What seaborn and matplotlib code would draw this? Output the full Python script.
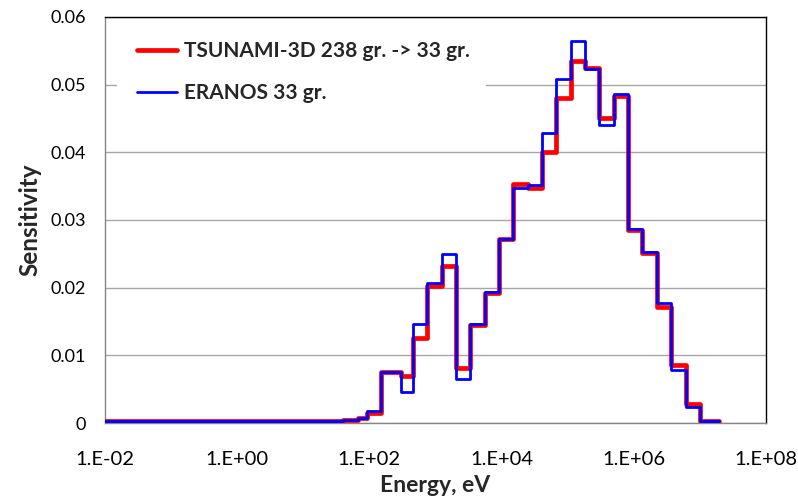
import matplotlib
matplotlib.use("Agg")
import matplotlib.pyplot as plt
import matplotlib.ticker as mticker
from matplotlib.patches import Rectangle
import numpy as np
import pandas as pd
import seaborn as sns

# 33-group energy boundaries (eV), ascending
group_edges = [1.0e-5, 0.1, 0.54, 4.0, 8.315, 13.71, 22.6, 40.17, 67.9, 91.66,
               148.6, 304.3, 454.0, 748.5, 1234.0, 2035.0, 3355.0, 5531.0, 9119.0,
               15030.0, 24790.0, 40870.0, 67380.0, 111100.0, 183200.0, 302000.0,
               497900.0, 820900.0, 1.353e6, 2.231e6, 3.679e6, 6.065e6, 1.0e7, 1.964e7]

# Group-wise sensitivities, lowest energy group first
tsunami_sens = [0.0003, 0.0003, 0.0003, 0.0003, 0.0003, 0.0003, 0.0003,
                0.0005, 0.0008, 0.0015, 0.0075, 0.0069, 0.0125, 0.0202, 0.0232,
                0.0082, 0.0145, 0.0192, 0.0272, 0.0353, 0.0347, 0.0400, 0.0481,
                0.0535, 0.0524, 0.0450, 0.0483, 0.0285, 0.0251, 0.0171, 0.0086,
                0.0028, 0.0003]
eranos_sens = [0.0003, 0.0003, 0.0003, 0.0003, 0.0003, 0.0003, 0.0003,
               0.0004, 0.0007, 0.0018, 0.0076, 0.0046, 0.0147, 0.0207, 0.0250,
               0.0065, 0.0147, 0.0193, 0.0272, 0.0348, 0.0351, 0.0428, 0.0509,
               0.0565, 0.0523, 0.0441, 0.0486, 0.0287, 0.0252, 0.0178, 0.0078,
               0.0023, 0.0003]

series_labels = ["TSUNAMI-3D 238 gr. -> 33 gr.", "ERANOS 33 gr."]
x_ticks = [1e-2, 1e0, 1e2, 1e4, 1e6, 1e8]
x_tick_labels = ["1.E-02", "1.E+00", "1.E+02", "1.E+04", "1.E+06", "1.E+08"]
y_ticks = [0, 0.01, 0.02, 0.03, 0.04, 0.05, 0.06]
y_tick_labels = ["0", "0.01", "0.02", "0.03", "0.04", "0.05", "0.06"]

sns.set_theme(style="white")
plt.rcParams["font.family"] = ["Lato", "DejaVu Sans"]

fig = plt.figure(figsize=(7.98, 5.0), dpi=100)
ax = fig.add_axes([105 / 798, 1 - 423 / 500, 661 / 798, 406 / 500])

def step_frame(values):
    return pd.DataFrame({"energy": group_edges, "sens": list(values) + [values[-1]]})

sns.lineplot(data=step_frame(tsunami_sens), x="energy", y="sens", ax=ax,
             drawstyle="steps-post", color="#ff0000", linewidth=3.4,
             label=series_labels[0], estimator=None, sort=False, zorder=3)
sns.lineplot(data=step_frame(eranos_sens), x="energy", y="sens", ax=ax,
             drawstyle="steps-post", color="#0000ff", linewidth=2.0,
             label=series_labels[1], estimator=None, sort=False, zorder=4)

ax.set_xscale("log")
ax.set_xlim(1e-2, 1e8)
ax.set_ylim(0, 0.06)
ax.xaxis.set_major_locator(mticker.FixedLocator(x_ticks))
ax.xaxis.set_major_formatter(mticker.FixedFormatter(x_tick_labels))
ax.xaxis.set_minor_locator(mticker.NullLocator())
ax.yaxis.set_major_locator(mticker.FixedLocator(y_ticks))
ax.yaxis.set_major_formatter(mticker.FixedFormatter(y_tick_labels))

ax.yaxis.grid(True, color="#a6a6a6", linewidth=1.0)
ax.xaxis.grid(False)
ax.set_axisbelow(True)

for side in ("left", "bottom"):
    ax.spines[side].set_color("#868686")
    ax.spines[side].set_linewidth(1.0)
for side in ("top", "right"):
    ax.spines[side].set_color("#000000")
    ax.spines[side].set_linewidth(1.0)
    ax.spines[side].set_visible(True)

ax.tick_params(axis="both", which="major", direction="out", length=6,
               width=1.0, color="#868686", labelcolor="#000000")
ax.tick_params(axis="x", pad=14, labelsize=14.5)
ax.tick_params(axis="y", pad=8, labelsize=13)

ax.set_xlabel("Energy, eV", fontsize=16.5, fontweight="bold", labelpad=5)
ax.set_ylabel("Sensitivity", fontsize=17.5, fontweight="bold", labelpad=6)

# white background behind the legend
ax.add_patch(Rectangle(((117 - 105) / 661, (423 - 118) / 406),
                       (486 - 117) / 661, (118 - 19) / 406,
                       transform=ax.transAxes, facecolor="white",
                       edgecolor="none", zorder=2))

leg = ax.legend(loc="upper left", bbox_to_anchor=((137 - 105) / 661, (423 - 41) / 406),
                frameon=False, borderpad=0, borderaxespad=0,
                handlelength=1.9, handletextpad=0.35, labelspacing=1.07,
                prop={"family": ["Lato", "DejaVu Sans"], "weight": "bold", "size": 15})
leg.set_zorder(5)

fig.savefig("out.png", dpi=100)
